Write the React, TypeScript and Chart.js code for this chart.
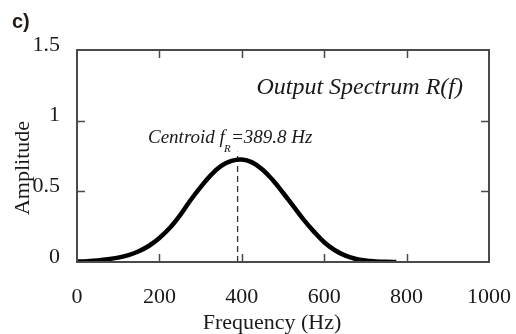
import React, { useEffect, useRef } from "react";
import { Chart, registerables } from "chart.js";

Chart.register(...registerables);

const frequencies = [0, 25, 50, 75, 100, 125, 150, 175, 200, 225, 250, 275, 300, 325, 350, 375, 400, 425, 450, 475, 500, 525, 550, 575, 600, 625, 650, 675, 700, 725, 750, 775];
const amplitude = [0.003, 0.006, 0.011, 0.019, 0.031, 0.049, 0.076, 0.115, 0.17, 0.24, 0.33, 0.435, 0.53, 0.615, 0.68, 0.715, 0.725, 0.705, 0.655, 0.58, 0.49, 0.395, 0.3, 0.215, 0.14, 0.085, 0.047, 0.023, 0.01, 0.004, 0.001, 0.0];
const centroidHz = 389.8;
const centroidTop = 0.78;
const xTicks = [0, 200, 400, 600, 800, 1000];
const yTicks = [0, 0.5, 1, 1.5];
const panelLabel = "c)";
const plotTitle = "Output Spectrum R(f)";
const xTitle = "Frequency (Hz)";
const yTitle = "Amplitude";

const SERIF = "'Liberation Serif', 'Times New Roman', serif";
const AXIS = "#4a4a4a";

const framePlugin = {
  id: "frame",
  afterDraw(chart: any) {
    const { ctx, chartArea: a, scales } = chart;
    const xs = scales.x;
    const ys = scales.y;
    ctx.save();
    // frame
    ctx.strokeStyle = AXIS;
    ctx.lineWidth = 2;
    ctx.strokeRect(a.left, a.top, a.right - a.left, a.bottom - a.top);
    // inner ticks
    ctx.lineWidth = 1.5;
    const tl = 8;
    xTicks.slice(1, -1).forEach((v) => {
      const px = Math.round(xs.getPixelForValue(v)) + 0.5;
      ctx.beginPath();
      ctx.moveTo(px, a.bottom);
      ctx.lineTo(px, a.bottom - tl);
      ctx.moveTo(px, a.top);
      ctx.lineTo(px, a.top + tl);
      ctx.stroke();
    });
    yTicks.slice(1, -1).forEach((v) => {
      const py = Math.round(ys.getPixelForValue(v)) + 0.5;
      ctx.beginPath();
      ctx.moveTo(a.left, py);
      ctx.lineTo(a.left + tl, py);
      ctx.moveTo(a.right, py);
      ctx.lineTo(a.right - tl, py);
      ctx.stroke();
    });
    // texts
    ctx.fillStyle = "#1a1a1a";
    ctx.font = `italic 24px ${SERIF}`;
    ctx.textAlign = "right";
    ctx.textBaseline = "middle";
    ctx.fillText(plotTitle, 463, 88);

    ctx.textAlign = "left";
    const x0 = 148;
    ctx.font = `italic 19px ${SERIF}`;
    const main = "Centroid f";
    ctx.fillText(main, x0, 138);
    const w1 = ctx.measureText(main).width;
    ctx.font = `italic 11px ${SERIF}`;
    ctx.fillText("R", x0 + w1 - 1, 149);
    ctx.font = `italic 19px ${SERIF}`;
    ctx.fillText("=" + centroidHz + " Hz", x0 + w1 + 6, 138);

    ctx.font = `22px ${SERIF}`;
    ctx.textAlign = "center";
    ctx.fillText(xTitle, 272, 323);

    ctx.save();
    ctx.translate(23, 168);
    ctx.rotate(-Math.PI / 2);
    ctx.fillText(yTitle, 0, 0);
    ctx.restore();

    ctx.font = `bold 20px 'Liberation Sans', Arial, sans-serif`;
    ctx.textAlign = "left";
    ctx.fillStyle = "#231a10";
    ctx.fillText(panelLabel, 12, 22);
    ctx.restore();
  },
};

export default function App() {
  const ref = useRef<HTMLCanvasElement>(null);
  useEffect(() => {
    document.body.style.margin = "0";
    const chart = new Chart(ref.current!, {
      type: "line",
      data: {
        datasets: [
          {
            data: frequencies.map((f, i) => ({ x: f, y: amplitude[i] })),
            borderColor: "#000",
            borderWidth: 4.5,
            pointRadius: 0,
            tension: 0.4,
          },
          {
            data: [
              { x: centroidHz, y: 0 },
              { x: centroidHz, y: centroidTop },
            ],
            borderColor: "#333",
            borderWidth: 1.3,
            borderDash: [6, 4],
            pointRadius: 0,
          },
        ],
      },
      options: {
        responsive: false,
        animation: false,
        layout: { padding: { top: 50, right: 27, left: 0, bottom: 0 } },
        plugins: { legend: { display: false }, tooltip: { enabled: false } },
        scales: {
          x: {
            type: "linear",
            min: 0,
            max: 1000,
            afterBuildTicks: (s: any) => {
              s.ticks = xTicks.map((v) => ({ value: v }));
            },
            afterFit: (s: any) => {
              s.height = 72;
              s.paddingLeft = 0;
              s.paddingRight = 0;
            },
            grid: { display: false },
            border: { display: false },
            ticks: {
              font: { family: SERIF, size: 22 },
              color: "#1a1a1a",
              padding: 14,
              maxRotation: 0,
              autoSkip: false,
              callback: (v: any) => String(v),
            },
          },
          y: {
            type: "linear",
            min: 0,
            max: 1.5,
            afterBuildTicks: (s: any) => {
              s.ticks = yTicks.map((v) => ({ value: v }));
            },
            afterFit: (s: any) => {
              s.width = 77;
              s.paddingTop = 0;
              s.paddingBottom = 0;
            },
            grid: { display: false },
            border: { display: false },
            ticks: {
              font: { family: SERIF, size: 22 },
              color: "#1a1a1a",
              padding: 9,
              labelOffset: -5,
              autoSkip: false,
              callback: (v: any) => String(v),
            },
          },
        },
      },
      plugins: [framePlugin],
    });
    return () => chart.destroy();
  }, []);
  return <canvas ref={ref} width={516} height={334} style={{ display: "block" }} />;
}
